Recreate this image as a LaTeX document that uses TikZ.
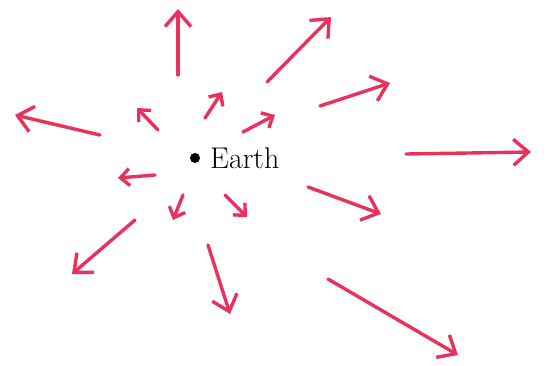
\documentclass[tikz,border=0pt]{standalone}
\usetikzlibrary{arrows.meta}
\definecolor{raypink}{RGB}{232,50,92}
\begin{document}
\begin{tikzpicture}[x=1pt,y=-1pt,
  ray/.style={draw=raypink, line width=3.4pt, line cap=round, line join=round,
    -{Straight Barb[length=15pt,width=26pt,line width=3.4pt]}},
  sray/.style={draw=raypink, line width=3.4pt, line cap=round, line join=round,
    -{Straight Barb[length=9pt,width=17pt,line width=3.4pt]}},
  lbl/.style={font=\fontsize{30}{34}\selectfont, inner sep=0pt, anchor=west}]
\useasboundingbox (0,0) rectangle (546,365);
% Earth
\fill (195,158) circle (5pt);
\node[lbl] (earth) at (210,158) {Earth};
% ray coordinates
\coordinate (a1s) at (178,75);  \coordinate (a1e) at (178,9);
\coordinate (a2s) at (267,82);  \coordinate (a2e) at (331,17);
\coordinate (a3s) at (320,106); \coordinate (a3e) at (390,83);
\coordinate (a4s) at (406,154); \coordinate (a4e) at (531,152);
\coordinate (a5s) at (308,187); \coordinate (a5e) at (381,214);
\coordinate (a6s) at (328,279); \coordinate (a6e) at (458,355);
\coordinate (a7s) at (208,245); \coordinate (a7e) at (230,314);
\coordinate (a8s) at (135,220); \coordinate (a8e) at (72,274);
\coordinate (a9s) at (100,135); \coordinate (a9e) at (15,115);
\coordinate (s1s) at (158,130); \coordinate (s1e) at (137,108);
\coordinate (s2s) at (205,118); \coordinate (s2e) at (222,92);
\coordinate (s3s) at (243,132); \coordinate (s3e) at (275,115);
\coordinate (s4s) at (155,175); \coordinate (s4e) at (118,178);
\coordinate (s5s) at (183,195); \coordinate (s5e) at (173,220);
\coordinate (s6s) at (225,195); \coordinate (s6e) at (247,217);
% long rays
\foreach \r in {a1,a2,a3,a4,a5,a6,a7,a8,a9}
  \draw[ray] (\r s) -- (\r e);
% short rays
\foreach \r in {s1,s2,s3,s4,s5,s6}
  \draw[sray] (\r s) -- (\r e);
\end{tikzpicture}
\end{document}
